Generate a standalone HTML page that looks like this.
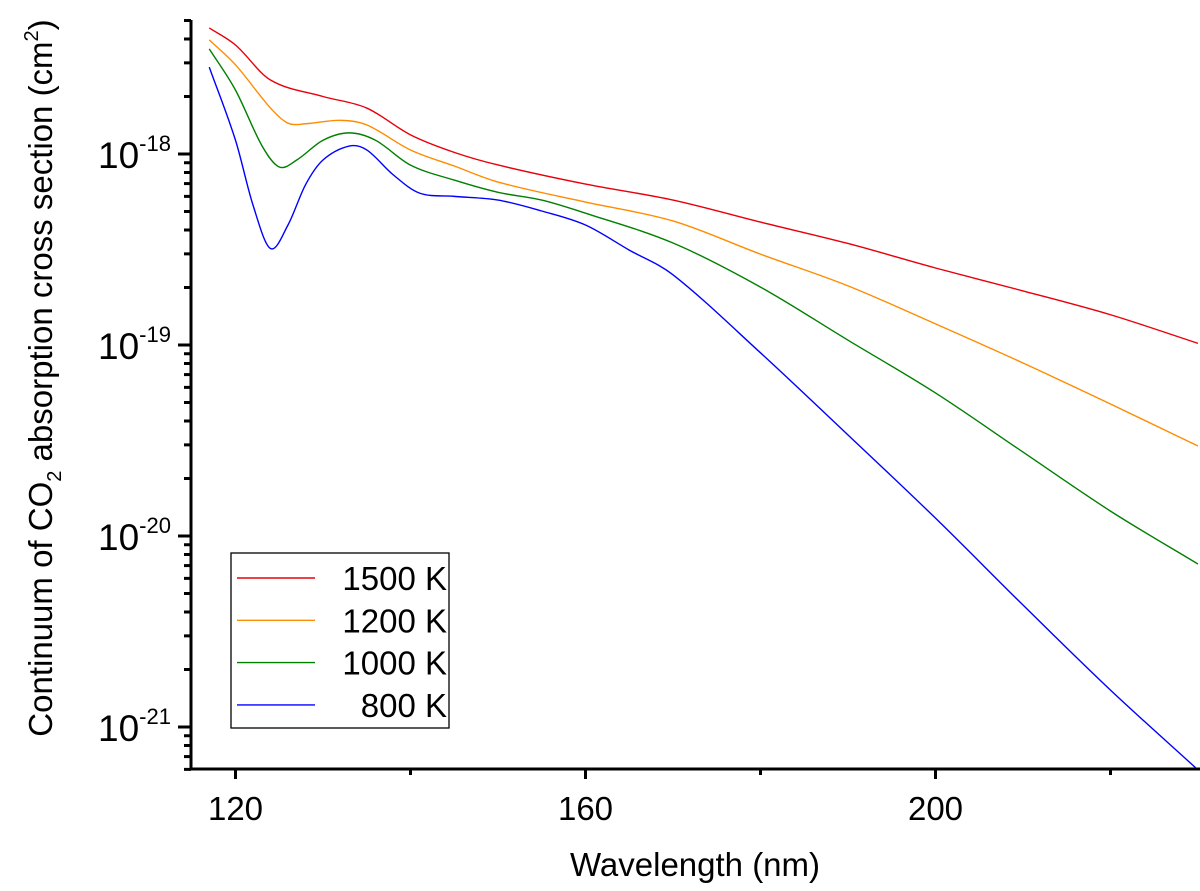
<!DOCTYPE html>
<html><head><meta charset="utf-8"><style>
html,body{margin:0;padding:0;background:#fff;}
svg{display:block;font-family:"Liberation Sans",Arial,sans-serif;}
</style></head><body>
<svg id="chart" width="1200" height="891" viewBox="0 0 1200 891" xmlns="http://www.w3.org/2000/svg">
<g id="axes"></g>
<g id="series"></g>
<text x="695" y="876" font-size="33" text-anchor="middle">Wavelength (nm)</text>
<text transform="translate(52,378) rotate(-90)" font-size="33" text-anchor="middle">Continuum of CO<tspan font-size="20" dy="9">2</tspan><tspan dy="-9"> absorption cross section (cm</tspan><tspan font-size="20" dy="-14">2</tspan><tspan dy="14">)</tspan></text>
<g id="legend">
<rect x="231" y="553" width="218" height="175" fill="#fff" stroke="#000" stroke-width="1.3"/>
</g>
</svg>
<script>
const xRed=[117,120,124,130,135,140,145,150,160,170,180,190,200,210,220,230];
const yRed=[4.57e-18,3.72e-18,2.44e-18,2.0e-18,1.74e-18,1.26e-18,1.02e-18,8.76e-19,6.96e-19,5.74e-19,4.4e-19,3.4e-19,2.53e-19,1.92e-19,1.44e-19,1.02e-19];
const xOrange=[117,120,124,126,128,132,135,140,145,150,160,170,180,190,200,210,220,230];
const yOrange=[3.96e-18,2.93e-18,1.74e-18,1.45e-18,1.44e-18,1.5e-18,1.42e-18,1.05e-18,8.65e-19,7.13e-19,5.6e-19,4.46e-19,2.99e-19,2.04e-19,1.29e-19,8.05e-20,4.91e-20,2.96e-20];
const xGreen=[117,120,123,125,127,130,133,136,140,145,150,155,160,170,180,190,200,210,220,230];
const yGreen=[3.55e-18,2.16e-18,1.11e-18,8.55e-19,9.3e-19,1.18e-18,1.29e-18,1.18e-18,8.75e-19,7.3e-19,6.3e-19,5.74e-19,4.9e-19,3.42e-19,2.01e-19,1.06e-19,5.61e-20,2.75e-20,1.35e-20,7.13e-21];
const xBlue=[117,120,122,124,126,128,130,133,135,138,141,145,150,155,160,165,170,180,190,200,210,220,230];
const yBlue=[2.85e-18,1.18e-18,5.4e-19,3.2e-19,4.25e-19,6.9e-19,9.3e-19,1.1e-18,1.05e-18,7.8e-19,6.25e-19,6.0e-19,5.74e-19,5.03e-19,4.25e-19,3.14e-19,2.33e-19,9.1e-20,3.38e-20,1.24e-20,4.35e-21,1.56e-21,5.96e-22];
const seriesNames=["1500 K","1200 K","1000 K","800 K"];
const xTickVals=[120,140,160,180,200,220];
const xTickLabels=["120","","160","","200",""];
const yDecades=[-18,-19,-20,-21];

const NS="http://www.w3.org/2000/svg";
const X0=191,XB=769,YT=20;
function xs(v){return 235.5+(v-120)*8.75;}
function ys(v){return 154-(Math.log10(v)+18)*191;}
function mk(tag,attrs,parent){const e=document.createElementNS(NS,tag);for(const k in attrs)e.setAttribute(k,attrs[k]);parent.appendChild(e);return e;}
const axes=document.getElementById('axes');
let ax=mk('path',{d:`M${X0},${YT} V${XB} H1200`,stroke:'#000','stroke-width':3,fill:'none'},axes);


xTickVals.forEach((v,i)=>{
  const t=mk('line',{x1:xs(v),x2:xs(v),y1:XB,y2:XB+(xTickLabels[i]?10:6),stroke:'#000','stroke-width':3},axes);
  
  
  if(xTickLabels[i]){
    const l=mk('text',{x:xs(v),y:820,'font-size':33,'text-anchor':'middle'},axes);
    l.textContent=xTickLabels[i];
    
    
  }
});
for(let d=-22;d<=-17;d++){
  for(let m=1;m<10;m++){
    const v=m*Math.pow(10,d);const y=ys(v);
    if(y<YT-1||y>XB+1)continue;
    const major=m===1;
    const t=mk('line',{x1:X0,x2:X0-(major?13:7),y1:y,y2:y,stroke:'#000','stroke-width':3},axes);
    
    
  }
}
yDecades.forEach(d=>{
  const y=ys(Math.pow(10,d));
  const l=mk('text',{x:98,y:y+14,'font-size':37},axes);
  l.innerHTML='10<tspan font-size="22" dy="-17">'+d+'</tspan>';
  
  
});
function pathFor(xa,ya){
  const p=xa.map((x,i)=>[xs(x),ys(ya[i])]);
  let d=`M${p[0][0]},${p[0][1]}`;
  for(let i=0;i<p.length-1;i++){
    const p0=p[Math.max(0,i-1)],p1=p[i],p2=p[i+1],p3=p[Math.min(p.length-1,i+2)];
    const h=p2[0]-p1[0];
    const s1=(p2[1]-p0[1])/(p2[0]-p0[0]||1), s2=(p3[1]-p1[1])/(p3[0]-p1[0]||1);
    const c1=[p1[0]+h/3,p1[1]+s1*h/3];
    const c2=[p2[0]-h/3,p2[1]-s2*h/3];
    d+=` C${c1[0]},${c1[1]} ${c2[0]},${c2[1]} ${p2[0]},${p2[1]}`;
  }
  return d;
}
const sg=document.getElementById('series');
mk('clipPath',{id:'clip'},sg);
mk('rect',{x:X0,y:0,width:1200-X0,height:XB-1},document.getElementById('clip'));
const cols=['#e8000b','#ff8c00','#008000','#0000ff'];
const xsArr=[xRed,xOrange,xGreen,xBlue],ysArr=[yRed,yOrange,yGreen,yBlue];
const snames=['line-1500k','line-1200k','line-1000k','line-800k'];
for(let i=0;i<4;i++){
  const pth=mk('path',{d:pathFor(xsArr[i],ysArr[i]),stroke:cols[i],'stroke-width':1.4,fill:'none','clip-path':'url(#clip)'},sg);
  
  
}
const lg=document.getElementById('legend');
seriesNames.forEach((n,i)=>{
  const y=578+i*42.3;
  const l=mk('line',{x1:237,x2:315,y1:y,y2:y,stroke:cols[i],'stroke-width':1.4},lg);
  
  
  const t=mk('text',{x:447,y:y+12,'font-size':33,'text-anchor':'end'},lg);
  t.textContent=n;
  
  
});
</script>
</body></html>
